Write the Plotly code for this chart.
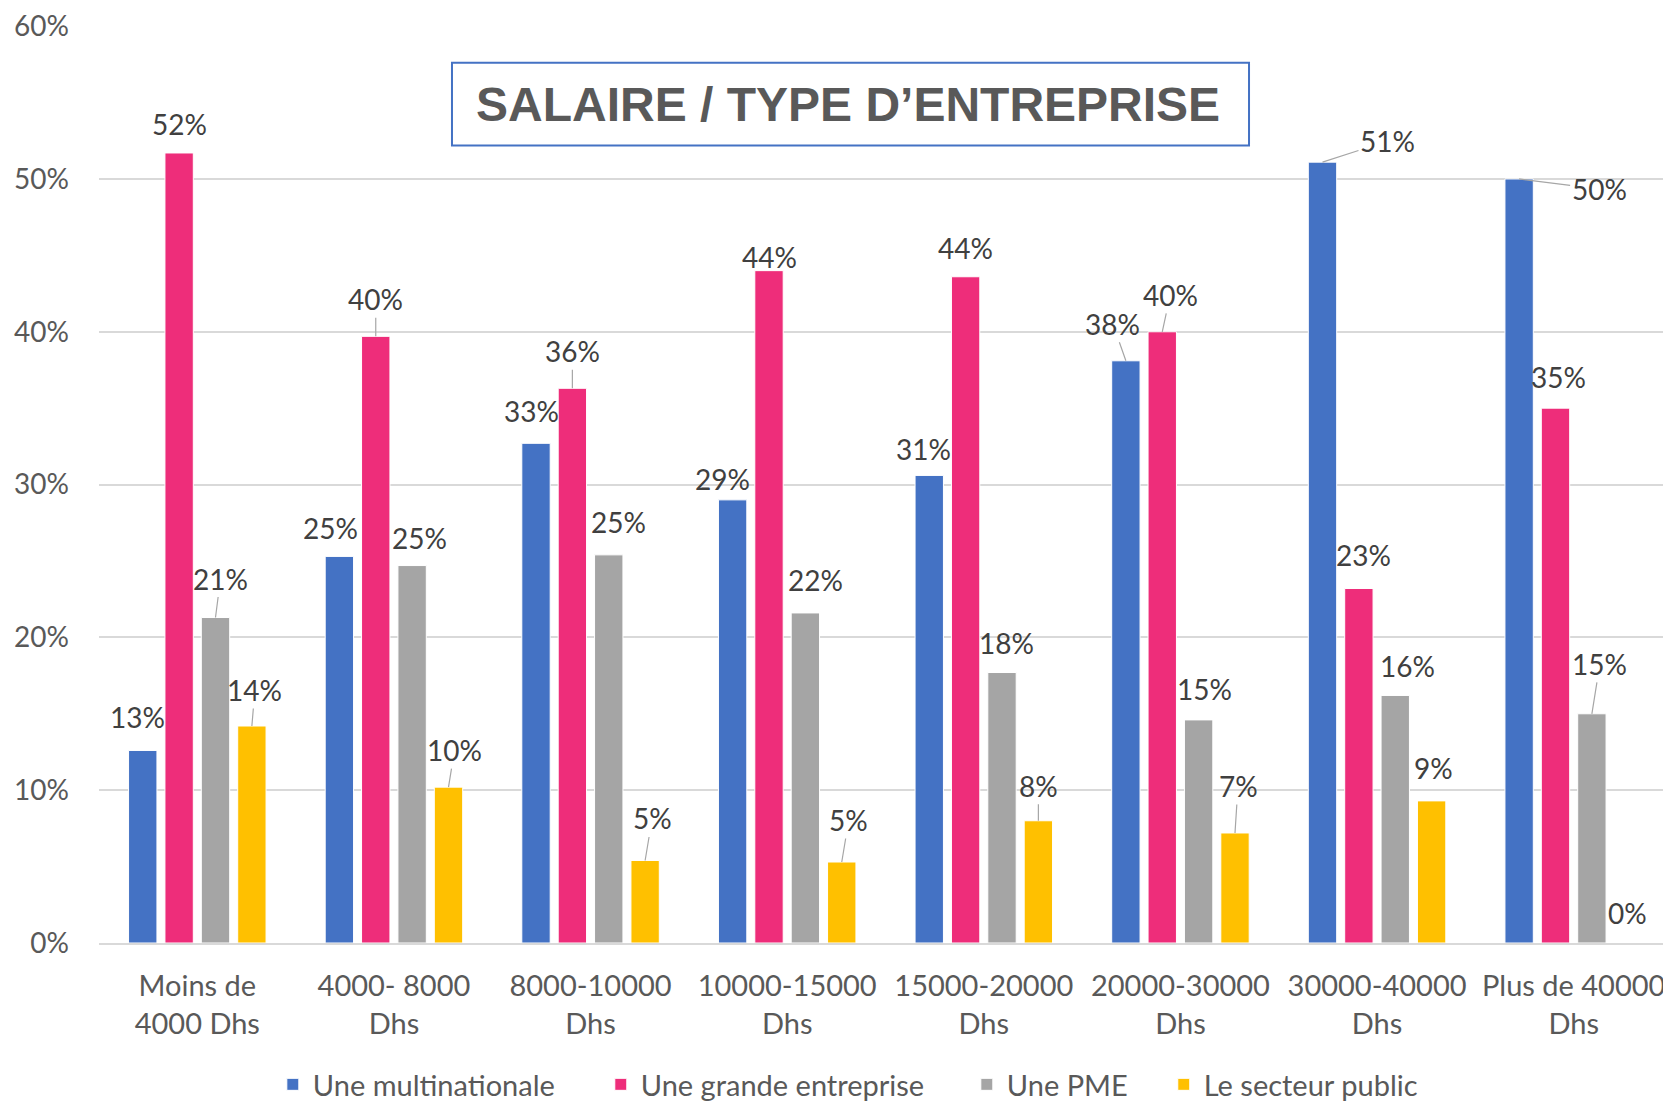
import plotly.graph_objects as go

categories = ["Moins de<br>4000 Dhs", "4000- 8000<br>Dhs", "8000-10000<br>Dhs", "10000-15000<br>Dhs",
              "15000-20000<br>Dhs", "20000-30000<br>Dhs", "30000-40000<br>Dhs", "Plus de 40000<br>Dhs"]
series_names = ["Une multinationale", "Une grande entreprise", "Une PME", "Le secteur public"]
multinationale = [0.126, 0.253, 0.327, 0.290, 0.306, 0.381, 0.511, 0.500]
grande_entreprise = [0.517, 0.397, 0.363, 0.440, 0.436, 0.400, 0.232, 0.350]
pme = [0.213, 0.247, 0.254, 0.216, 0.177, 0.146, 0.162, 0.150]
secteur_public = [0.142, 0.102, 0.054, 0.053, 0.080, 0.072, 0.093, 0.0]
y_ticks = [0, 0.1, 0.2, 0.3, 0.4, 0.5, 0.6]
title_text = "SALAIRE / TYPE D\u2019ENTREPRISE"

values = [multinationale, grande_entreprise, pme, secteur_public]
colors = ["#4472C4", "#EE2D7A", "#A5A5A5", "#FFC000"]

# label placement style (pixel offsets from bar top) and leader-line flags
label_dx = [[-5, -9, -5, -10, -6, -13, 65, 80],
            [0, 0, 0, 0, 0, 8, 5, 3],
            [5, 7, 10, 10, 4, 6, 12, 8],
            [3, 6, 7, 7, 0, 3, 2, -1]]
label_dy = [[-33, -28, -32, -21, -26, -37, -21, 10],
            [-29, -37, -37, -14, -29, -37, -33, -31],
            [-39, -28, -33, -33, -30, -31, -29, -50],
            [-36, -37, -42, -42, -35, -47, -33, -30]]
leader = [[0, 0, 0, 0, 0, 1, 1, 1],
          [0, 1, 1, 0, 0, 1, 0, 0],
          [1, 0, 0, 0, 0, 0, 0, 1],
          [1, 1, 1, 1, 1, 1, 0, 0]]
legend_x = [0.1105, 0.3190, 0.5517, 0.6769]

FONT = "Lato, 'Open Sans', sans-serif"
TITLE_FONT = "'Liberation Sans', Arial, sans-serif"
BARGAP = 0.26
n_series = len(values)
legend_ids = ["legend", "legend2", "legend3", "legend4"]

fig = go.Figure()
for j, (name, vals, col) in enumerate(zip(series_names, values, colors)):
    fig.add_trace(go.Bar(
        x=list(range(len(categories))), y=vals, name=name,
        marker=dict(color=col, line=dict(color="white", width=1)),
        hoverinfo="skip", legend=legend_ids[j],
    ))

annotations = []
slot = (1 - BARGAP) / n_series
for j, vals in enumerate(values):
    for i, v in enumerate(vals):
        xpos = i - (1 - BARGAP) / 2 + (j + 0.5) * slot
        annotations.append(dict(
            x=xpos, y=v, xref="x", yref="y",
            text=f"{v:.0%}", showarrow=True,
            ax=label_dx[j][i], ay=label_dy[j][i],
            arrowhead=0, arrowwidth=1.2, standoff=0, startstandoff=0,
            arrowcolor="#A6A6A6" if leader[j][i] else "rgba(0,0,0,0)",
            font=dict(family=FONT, size=28, color="#404040"),
        ))

annotations.append(dict(
    x=0.4762, y=0.9141, xref="paper", yref="paper", xanchor="center", yanchor="middle",
    text=f"<b>{title_text}</b>", showarrow=False,
    font=dict(family=TITLE_FONT, size=48, color="#595959"),
))

fig.add_shape(type="rect", xref="paper", yref="paper",
              x0=0.2244, x1=0.7311, y0=0.8696, y1=0.9598,
              line=dict(color="#4472C4", width=2), fillcolor="rgba(0,0,0,0)")

legend_common = dict(orientation="h", xanchor="left", y=-0.1543, yanchor="middle",
                     font=dict(family=FONT, size=29, color="#595959"),
                     itemwidth=30, bgcolor="rgba(0,0,0,0)")
layout_legends = {lid: dict(legend_common, x=lx) for lid, lx in zip(legend_ids, legend_x)}

fig.update_layout(
    width=1671, height=1101,
    margin=dict(l=91, r=7, t=18, b=166, autoexpand=False),
    paper_bgcolor="white", plot_bgcolor="white",
    barmode="group", bargap=BARGAP, bargroupgap=0.22,
    font=dict(family=FONT, size=28, color="#595959"),
    showlegend=True,
    annotations=annotations,
    xaxis=dict(
        tickmode="array", tickvals=list(range(len(categories))), ticktext=categories,
        range=[-0.5, len(categories) - 0.5],
        showgrid=False, showline=True, linecolor="#D9D9D9", linewidth=2,
        ticks="", tickfont=dict(family=FONT, size=29, color="#595959"),
        zeroline=False, automargin=False, ticklabelstandoff=16,
    ),
    yaxis=dict(
        range=[0, 0.6001], tickvals=y_ticks, tickformat=".0%",
        showgrid=True, gridcolor="#D9D9D9", gridwidth=2,
        showline=False, zeroline=False, ticks="", ticklabelstandoff=29,
        ticklabeloverflow="allow",
        tickfont=dict(family=FONT, size=28, color="#595959"), automargin=False,
    ),
    **layout_legends,
)

fig.write_html("out.html")
